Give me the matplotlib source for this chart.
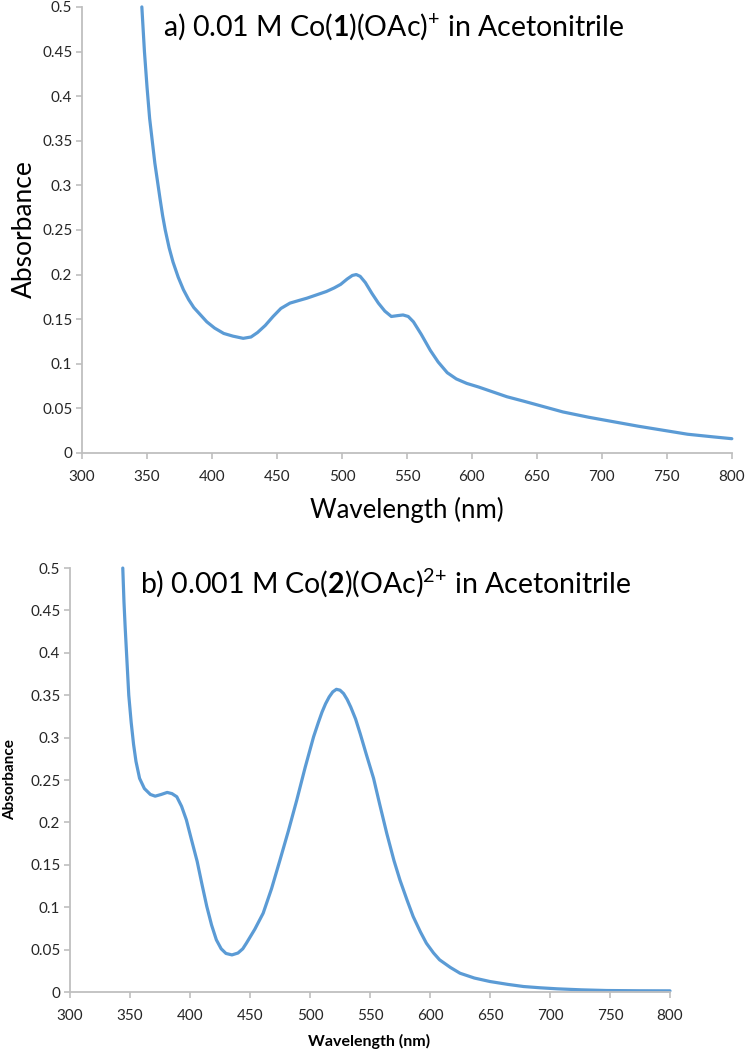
import matplotlib
matplotlib.use('Agg')
import matplotlib.pyplot as plt
from matplotlib.ticker import FuncFormatter, MultipleLocator

plt.rcParams['font.family'] = ['Lato', 'DejaVu Sans']
plt.rcParams['mathtext.fontset'] = 'custom'
plt.rcParams['mathtext.rm'] = 'Lato'
plt.rcParams['mathtext.bf'] = 'Lato:bold'

# panel a: 0.01 M Co(1)(OAc)+
wl_a = [346, 348, 350, 352, 354, 356, 358, 360, 362, 364, 367, 370, 374, 378, 382,
        386, 391, 396, 402, 409, 416, 424, 430, 435, 441, 447, 453, 460, 467, 473,
        480, 488, 494, 499, 504, 508, 511, 514, 518, 523, 528, 533, 538, 543, 547,
        551, 555, 561, 568, 574, 581, 588, 596, 605, 615, 627, 640, 655, 670, 690,
        709, 728, 747, 766, 786, 800]
abs_a = [0.50, 0.45, 0.41, 0.375, 0.35, 0.325, 0.305, 0.285, 0.266, 0.25, 0.23,
         0.214, 0.197, 0.183, 0.172, 0.163, 0.155, 0.147, 0.140, 0.134, 0.131, 0.1285,
         0.130, 0.135, 0.143, 0.153, 0.162, 0.168, 0.171, 0.1735, 0.177, 0.181, 0.185,
         0.189, 0.195, 0.199, 0.200, 0.198, 0.191, 0.179, 0.168, 0.159, 0.153, 0.154,
         0.1547, 0.153, 0.147, 0.133, 0.115, 0.102, 0.090, 0.083, 0.078, 0.074, 0.069,
         0.063, 0.058, 0.052, 0.046, 0.040, 0.035, 0.030, 0.0255, 0.021, 0.018, 0.016]

# panel b: 0.001 M Co(2)(OAc)2+
wl_b = [344, 345, 346, 347.5, 349, 351, 353, 355, 358, 362, 367, 371, 376, 381, 385,
        389, 393, 397, 401, 406, 410, 414, 418, 422, 426, 430, 435, 440, 444, 447,
        454, 461, 468, 475, 482, 489, 496, 503, 507, 510, 513, 516, 519, 522, 525,
        528, 531, 534, 538, 542, 547, 553, 558, 564, 570, 575, 581, 586, 592, 597,
        603, 608, 617, 625, 637, 650, 665, 678, 692, 706, 726, 747, 775, 800]
abs_b = [0.50, 0.46, 0.43, 0.39, 0.35, 0.318, 0.292, 0.272, 0.252, 0.24, 0.233, 0.231,
         0.233, 0.2354, 0.234, 0.2303, 0.219, 0.203, 0.181, 0.154, 0.127, 0.101, 0.079,
         0.0615, 0.051, 0.0455, 0.0438, 0.046, 0.051, 0.0576, 0.074, 0.093, 0.122,
         0.1557, 0.19, 0.2264, 0.265, 0.301, 0.318, 0.330, 0.340, 0.348, 0.354, 0.357,
         0.356, 0.352, 0.345, 0.336, 0.322, 0.304, 0.28, 0.252, 0.222, 0.187, 0.155,
         0.132, 0.108, 0.089, 0.071, 0.0576, 0.046, 0.038, 0.029, 0.0222, 0.0165,
         0.0124, 0.009, 0.0065, 0.005, 0.0038, 0.0026, 0.0018, 0.0015, 0.0014]

title_a = r'a) 0.01 M Co($\mathbf{1}$)(OAc)$^{{+}}$ in Acetonitrile'
title_b = r'b) 0.001 M Co($\mathbf{2}$)(OAc)$^{2{+}}$ in Acetonitrile'

LINE = '#5B9BD5'
GRID = '#BFBFBF'
TXT = '#262626'

fig = plt.figure(figsize=(7.46, 10.5), dpi=100)
ax_a = fig.add_axes([0.110, 0.5686, 0.871, 0.4248])
ax_b = fig.add_axes([0.0938, 0.0552, 0.8043, 0.4038])


def style(ax):
    ax.set_xlim(300, 800)
    ax.set_ylim(0, 0.5)
    ax.xaxis.set_major_locator(MultipleLocator(50))
    ax.yaxis.set_major_locator(MultipleLocator(0.05))
    ax.yaxis.set_major_formatter(FuncFormatter(lambda v, p: '%g' % round(v, 3)))
    for s in ['top', 'right']:
        ax.spines[s].set_visible(False)
    for s in ['left', 'bottom']:
        ax.spines[s].set_color(GRID)
        ax.spines[s].set_linewidth(1.3)
    ax.tick_params(direction='out', length=4, width=1.2, color=GRID,
                   labelsize=11, labelcolor=TXT)
    ax.tick_params(axis='x', pad=8)
    ax.tick_params(axis='y', pad=3)


ax_a.plot(wl_a, abs_a, color=LINE, lw=2.3, solid_capstyle='round', clip_on=False)
style(ax_a)
ax_a.text(0.1246, 0.9364, title_a, transform=ax_a.transAxes, fontsize=20.5,
          color='black', va='baseline', ha='left')
fig.text(24 / 746, 1 - 229 / 1050, 'Absorbance', rotation=90, fontsize=19,
         color='black', ha='center', va='center')
fig.text(407 / 746, 1 - 510 / 1050, 'Wavelength (nm)', fontsize=18.5,
         color='black', ha='center', va='center')

ax_b.plot(wl_b, abs_b, color=LINE, lw=2.3, solid_capstyle='round', clip_on=False)
style(ax_b)
ax_b.text(0.1167, 0.9404, title_b, transform=ax_b.transAxes, fontsize=20.5,
          color='black', va='baseline', ha='left')
fig.text(10 / 746, 1 - 780 / 1050, 'Absorbance', rotation=90, fontsize=11,
         fontweight='bold', color='black', ha='center', va='center')
fig.text(369 / 746, 1 - 1041 / 1050, 'Wavelength (nm)', fontsize=11.5,
         fontweight='bold', color='black', ha='center', va='center')

fig.savefig('out.png', dpi=100)
